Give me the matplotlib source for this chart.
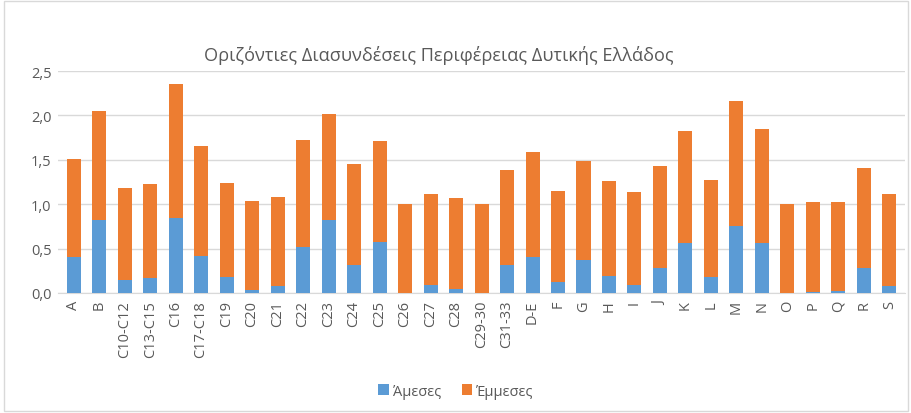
import matplotlib
matplotlib.use("Agg")
import matplotlib.pyplot as plt
import numpy as np

categories = ["A", "B", "C10-C12", "C13-C15", "C16", "C17-C18", "C19", "C20", "C21", "C22",
              "C23", "C24", "C25", "C26", "C27", "C28", "C29-30", "C31-33", "D-E", "F",
              "G", "H", "I", "J", "K", "L", "M", "N", "O", "P", "Q", "R", "S"]
direct = [0.41, 0.82, 0.15, 0.17, 0.84, 0.42, 0.18, 0.03, 0.08, 0.52,
          0.82, 0.31, 0.57, 0.00, 0.09, 0.05, 0.00, 0.32, 0.40, 0.12,
          0.37, 0.19, 0.09, 0.28, 0.56, 0.18, 0.75, 0.56, 0.00, 0.01, 0.02, 0.28, 0.08]
total = [1.51, 2.05, 1.18, 1.23, 2.35, 1.66, 1.24, 1.04, 1.08, 1.72,
         2.02, 1.45, 1.71, 1.00, 1.11, 1.07, 1.00, 1.39, 1.59, 1.15,
         1.49, 1.26, 1.14, 1.43, 1.83, 1.27, 2.16, 1.85, 1.00, 1.02, 1.02, 1.41, 1.11]
indirect = [t - d for t, d in zip(total, direct)]
yticks = [0.0, 0.5, 1.0, 1.5, 2.0, 2.5]
title = "Οριζόντιες Διασυνδέσεις Περιφέρειας Δυτικής Ελλάδος"
labels = ["Άμεσες", "Έμμεσες"]

plt.rcParams['font.family'] = ['Open Sans', 'DejaVu Sans']
gray = "#595959"

fig = plt.figure(figsize=(9.12, 4.14), dpi=100)
ax = fig.add_axes([0.064, 0.29, 0.928, 0.536])
x = np.arange(len(categories))
ax.bar(x, direct, width=0.55, color="#5B9BD5", label=labels[0], zorder=3)
ax.bar(x, indirect, width=0.55, bottom=direct, color="#ED7D31", label=labels[1], zorder=3)

ax.set_xlim(-0.6, len(categories) - 0.4)
ax.set_ylim(0, 2.5)
ax.set_yticks(yticks)
ax.set_yticklabels([f"{v:.1f}".replace(".", ",") for v in yticks], fontsize=10.5, color=gray)
ax.set_xticks(x)
ax.set_xticklabels(categories, rotation=90, fontsize=10.5, color=gray)
ax.grid(axis="y", color="#D9D9D9", linewidth=1, zorder=0)
for s in ["top", "right", "left"]:
    ax.spines[s].set_visible(False)
ax.spines["bottom"].set_color("#D9D9D9")
ax.tick_params(axis="both", length=0, pad=5)

fig.text(0.481, 0.865, title, ha="center", va="center", fontsize=13.1, color=gray)
fig.legend(loc="center", bbox_to_anchor=(0.5, 0.053), ncol=2, frameon=False,
           fontsize=10.5, handlelength=0.7, handleheight=0.7, columnspacing=1.4,
           handletextpad=0.3, labelcolor=gray)

border = plt.Rectangle((0.004, 0.004), 0.992, 0.99, transform=fig.transFigure,
                       fill=False, edgecolor="#D9D9D9", linewidth=1)
fig.add_artist(border)

fig.savefig("out.png", dpi=100)
